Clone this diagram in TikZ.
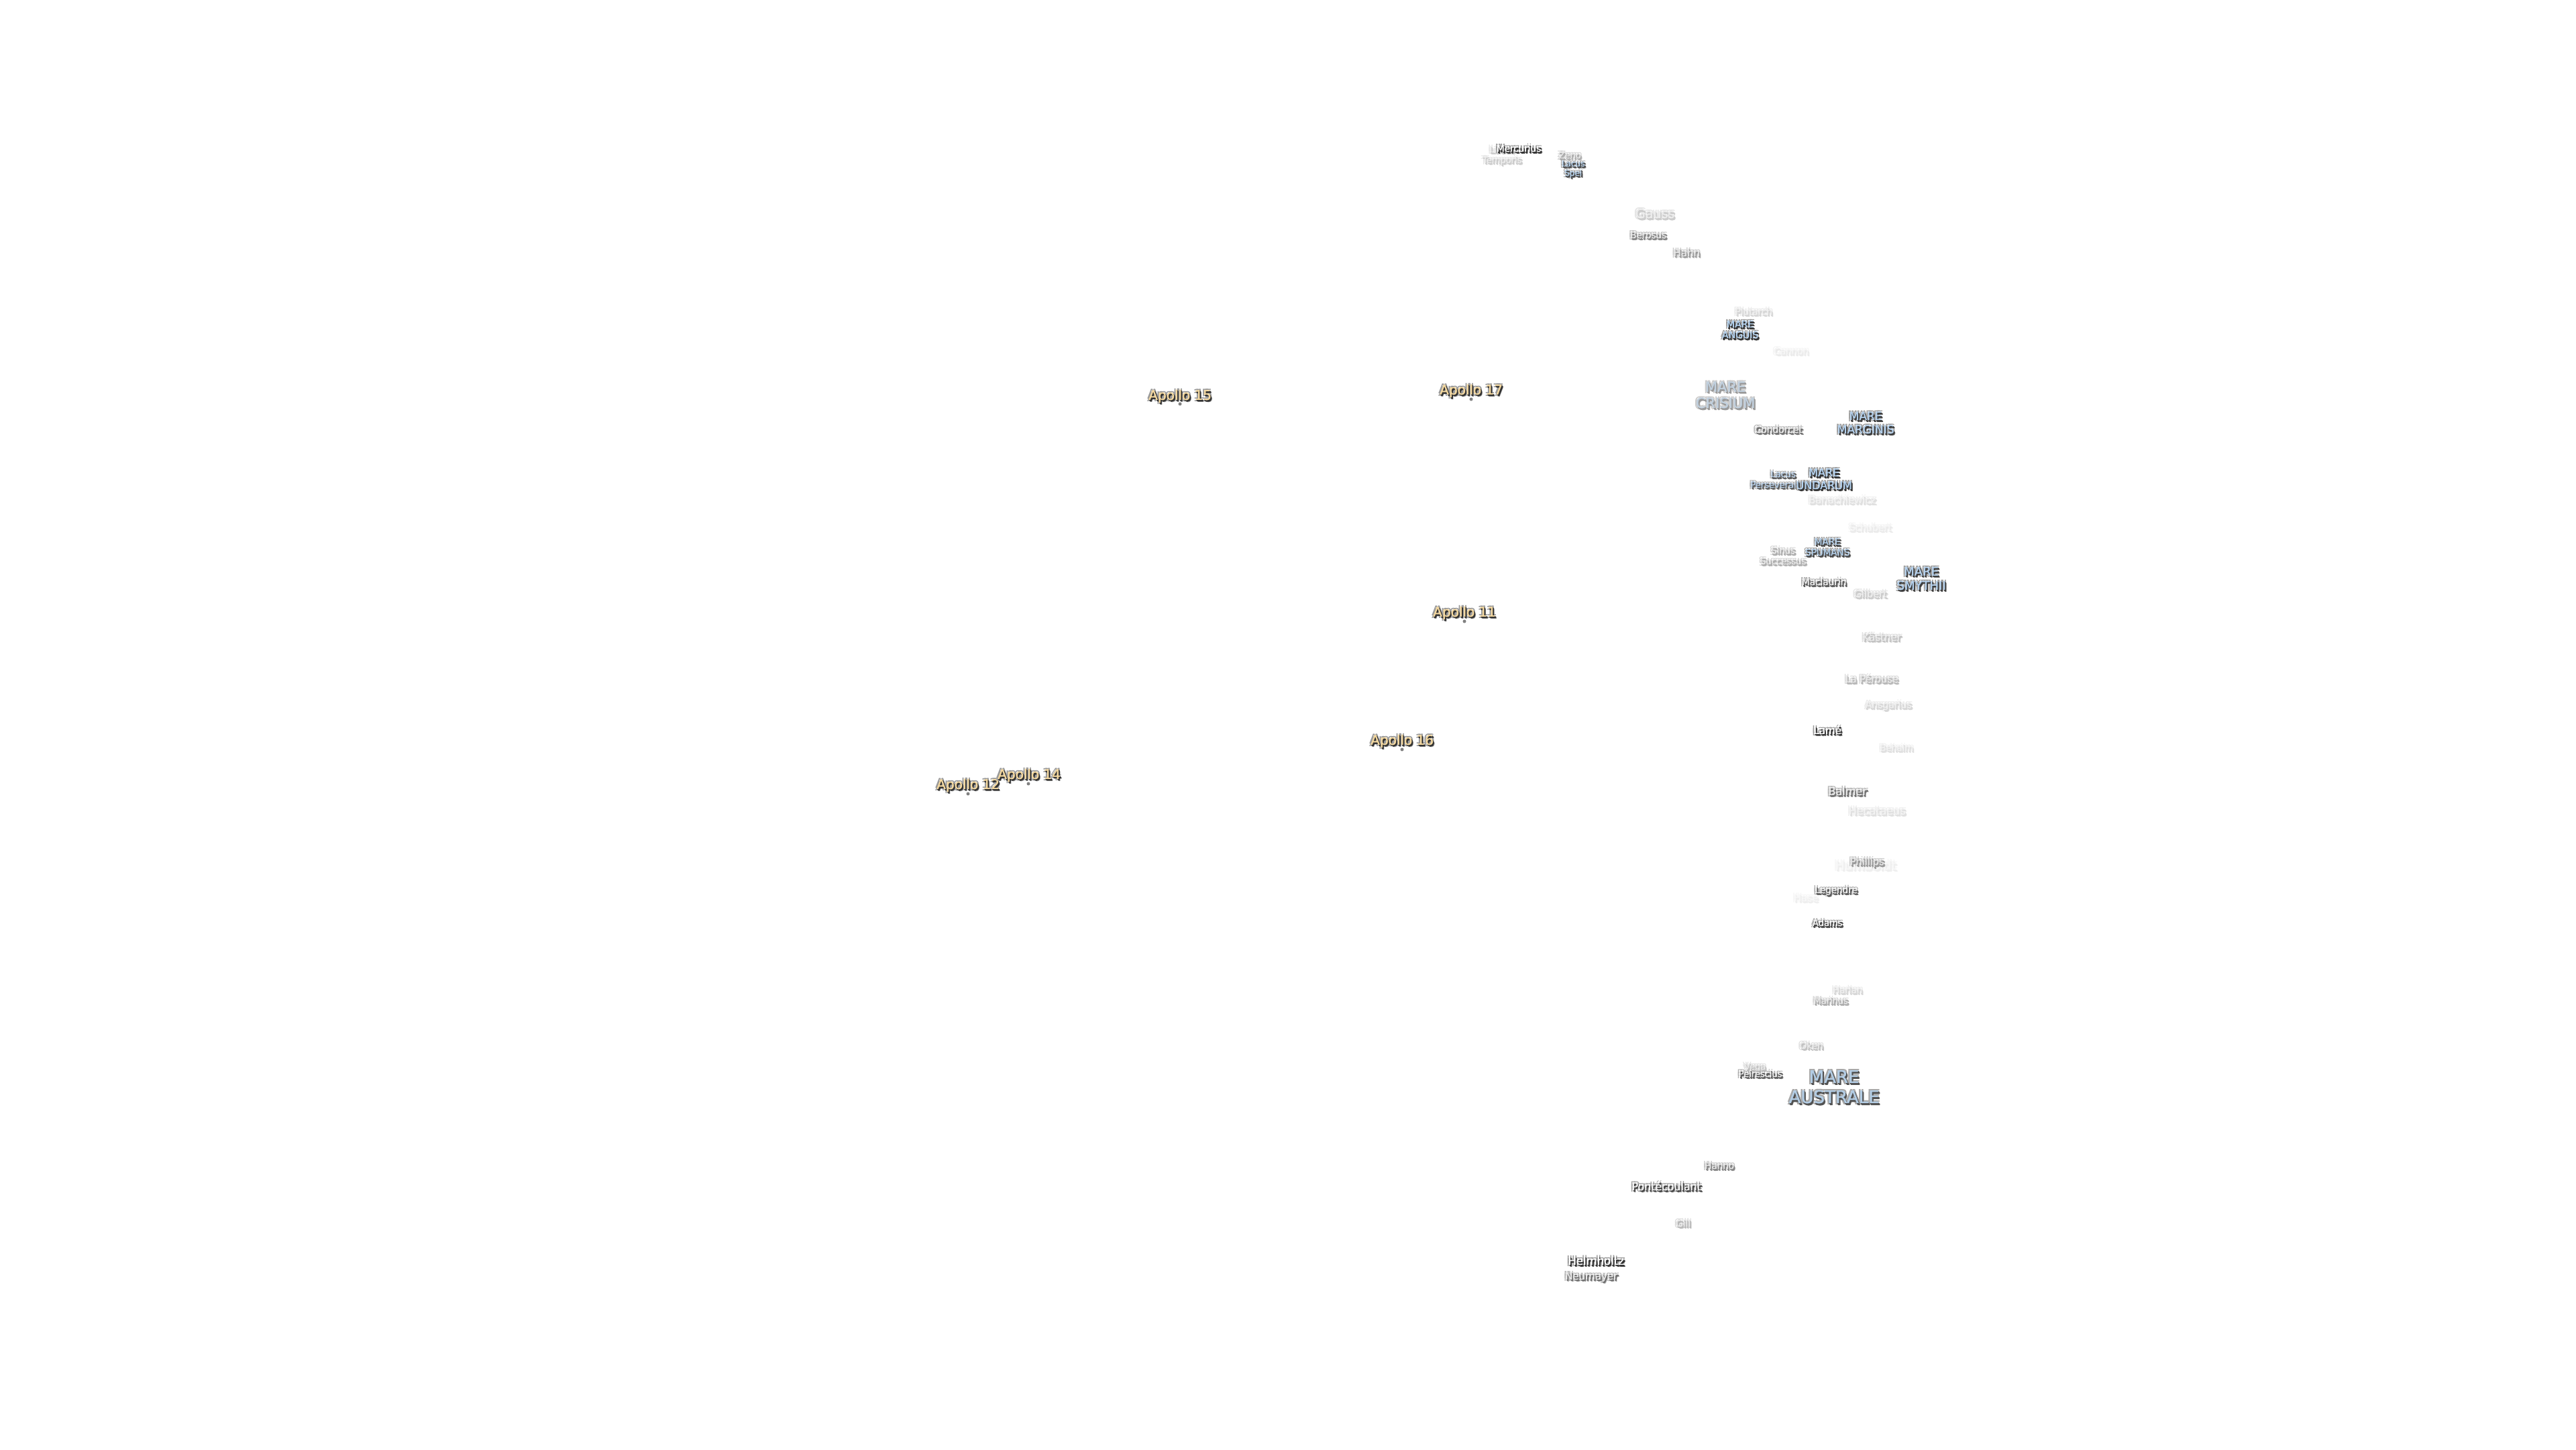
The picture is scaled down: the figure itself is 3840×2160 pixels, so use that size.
\documentclass[tikz,border=0pt]{standalone}
\usepackage{xcolor}
\usepackage{fontspec}
\usepackage{tikz}
\setmainfont{DejaVu Sans}

\definecolor{marefill}{HTML}{B5D3F0}
\definecolor{apollofill}{HTML}{F5D9A0}

% one copy of a label, shifted by x and y
\newcommand{\halocopy}[4]{\rlap{\kern#1pt\raisebox{#2pt}{\color{#3}\begin{tabular}{@{}c@{}}#4\end{tabular}}}}
\newcommand{\halo}[1]{%
    \colorlet{halodark}{black!80!white}%
    \colorlet{halodark}{halodark!\lblfade!white}%
    \colorlet{halosoft}{halodark!50!white}%
    \colorlet{halotop}{\lblfill!\lblfade!halosoft}%
    \halocopy{-2}{2}{halosoft}{#1}\halocopy{2}{2}{halosoft}{#1}%
    \halocopy{-2}{-2}{halosoft}{#1}\halocopy{3}{-3}{halosoft}{#1}%
    {\addfontfeature{FakeBold=3}\halocopy{1}{-1}{halodark}{#1}\halocopy{2}{-2}{halodark}{#1}}%
    \halocopy{0.5}{0}{halotop}{#1}%
    {\color{halotop}\begin{tabular}{@{}c@{}}#1\end{tabular}}}
\newcommand{\lblfont}[1]{\pgfmathsetmacro\lblskip{#1*1.17}\fontsize{#1}{\lblskip}\selectfont}

\tikzset{
    crater/.style 2 args={inner sep=0pt, xshift=1pt, yshift=-4pt, font=\lblfont{#1}, execute at begin node={\def\lblfill{white}\def\lblfade{#2}}},
    mare/.style 2 args={inner sep=0pt, xshift=1pt, yshift=-4pt, font=\lblfont{#1}, execute at begin node={\def\lblfill{marefill}\def\lblfade{#2}}},
    apollo/.style={inner sep=0pt, xshift=1pt, yshift=-4pt, font=\lblfont{20}, execute at begin node={\def\lblfill{apollofill}\def\lblfade{100}}},
    site/.style={circle, inner sep=0pt, minimum size=5pt, fill=black!50}
}

\begin{document}
\begin{tikzpicture}[x=1pt, y=1pt]
    \useasboundingbox (0, 0) rectangle (3840, -2160);
    % Landing sites
    \node[site] (S15) at (1759, -602) {};
    \node[site] (S17) at (2193, -595) {};
    \node[site] (S11) at (2183, -926) {};
    \node[site] (S16) at (2090, -1117) {};
    \node[site] (S12) at (1443, -1183) {};
    \node[site] (S14) at (1533, -1168) {};
    \node[apollo] (A15) at (1758, -588) {\halo{Apollo 15}};
    \node[apollo] (A17) at (2192, -580) {\halo{Apollo 17}};
    \node[apollo] (A11) at (2182, -911) {\halo{Apollo 11}};
    \node[apollo] (A16) at (2089, -1102) {\halo{Apollo 16}};
    \node[apollo] (A12) at (1442, -1168) {\halo{Apollo 12}};
    \node[apollo] (A14) at (1533, -1153) {\halo{Apollo 14}};

    % Faint names
    \node[crater={18.5}{8}] (Humboldt) at (2780, -1289) {\halo{Humboldt}};
    \node[crater={14.5}{8}] (Hase) at (2691, -1337) {\halo{Hase}};
    \node[crater={13.5}{10}] (Cannon) at (2669, -522) {\halo{Cannon}};
    \node[crater={14}{10}] (Schubert) at (2787, -785) {\halo{Schubert}};
    \node[crater={13}{15}] (Behaim) at (2826, -1113) {\halo{Behaim}};
    \node[crater={16}{15}] (Hecataeus) at (2797, -1207) {\halo{Hecataeus}};
    \node[crater={14.7}{15}] (Banachiewicz) at (2745, -744) {\halo{Banachiewicz}};
    \node[crater={13.5}{20}] (Plutarch) at (2613, -463) {\halo{Plutarch}};
    \node[crater={14}{20}] (Ansgarius) at (2814, -1049) {\halo{Ansgarius}};
    \node[crater={13.3}{20}] (Harlan) at (2753, -1474) {\halo{Harlan}};
    \node[crater={13}{25}] (Temporis) at (2238, -229) {\halo{Lacus\\Temporis}};
    \node[crater={19}{25}] (Gauss) at (2466, -318) {\halo{Gauss}};
    \node[crater={14.5}{25}] (Gilbert) at (2787, -884) {\halo{Gilbert}};
    \node[crater={15}{30}] (Kastner) at (2804, -948) {\halo{Kästner}};
    \node[crater={13.5}{30}] (Oken) at (2699, -1557) {\halo{Oken}};
    \node[crater={13}{30}] (Vega) at (2615, -1588) {\halo{Vega}};
    \node[crater={14.5}{35}] (Perouse) at (2789, -1011) {\halo{La Pérouse}};
    \node[crater={13.7}{35}] (Gill) at (2508, -1822) {\halo{Gill}};
    \node[crater={13}{40}] (Zeno) at (2339, -230) {\halo{Zeno}};
    \node[crater={13.2}{40}] (Successus) at (2657, -827) {\halo{Sinus\\Successus}};
    \node[crater={13}{40}] (Marinus) at (2728, -1490) {\halo{Marinus}};

    % Middle names
    \node[mare={21}{50}] (Crisium) at (2571, -588) {\halo{MARE\\CRISIUM}};
    \node[crater={15}{50}] (Hahn) at (2513, -375) {\halo{Hahn}};
    \node[crater={14.5}{50}] (Phillips) at (2782, -1283) {\halo{Phillips}};
    \node[crater={13.5}{60}] (Berosus) at (2456, -349) {\halo{Berosus}};
    \node[crater={13.5}{60}] (Hanno) at (2562, -1736) {\halo{Hanno}};
    \node[crater={13.8}{70}] (Condorcet) at (2650, -639) {\halo{Condorcet}};
    \node[crater={16}{70}] (Balmer) at (2753, -1178) {\halo{Balmer}};
    \node[crater={15}{70}] (Neumayer) at (2371, -1900) {\halo{Neumayer}};
    \node[crater={13.6}{80}] (Maclaurin) at (2718, -866) {\halo{Maclaurin}};
    \node[crater={13.5}{80}] (Legendre) at (2736, -1325) {\halo{Legendre}};
    \node[crater={13}{80}] (Peirescius) at (2623, -1599) {\halo{Peirescius}};

    % Strong names
    \node[mare={13}{80}] (Perseverantiae) at (2657, -713) {\halo{Lacus\\Perseverantiae}};
    \node[crater={13.5}{100}] (Mercurius) at (2263, -220) {\halo{Mercurius}};
    \node[mare={12}{90}] (Spei) at (2344, -249) {\halo{Lacus\\Spei}};
    \node[mare={14}{100}] (Anguis) at (2593, -490) {\halo{MARE\\ANGUIS}};
    \node[mare={17}{95}] (Marginis) at (2780, -629) {\halo{MARE\\MARGINIS}};
    \node[mare={16}{100}] (Undarum) at (2718, -713) {\halo{MARE\\UNDARUM}};
    \node[mare={13.5}{90}] (Spumans) at (2723, -814) {\halo{MARE\\SPUMANS}};
    \node[mare={18}{95}] (Smythii) at (2863, -861) {\halo{MARE\\SMYTHII}};
    \node[crater={15}{100}] (Lame) at (2723, -1087) {\halo{Lamé}};
    \node[crater={13}{90}] (Adams) at (2723, -1374) {\halo{Adams}};
    \node[mare={26}{85}] (Australe) at (2733, -1620) {\halo{MARE\\AUSTRALE}};
    \node[crater={15.8}{90}] (Pontecoulant) at (2483, -1767) {\halo{Pontécoulant}};
    \node[crater={16.5}{100}] (Helmholtz) at (2378, -1878) {\halo{Helmholtz}};
\end{tikzpicture}
\end{document}
